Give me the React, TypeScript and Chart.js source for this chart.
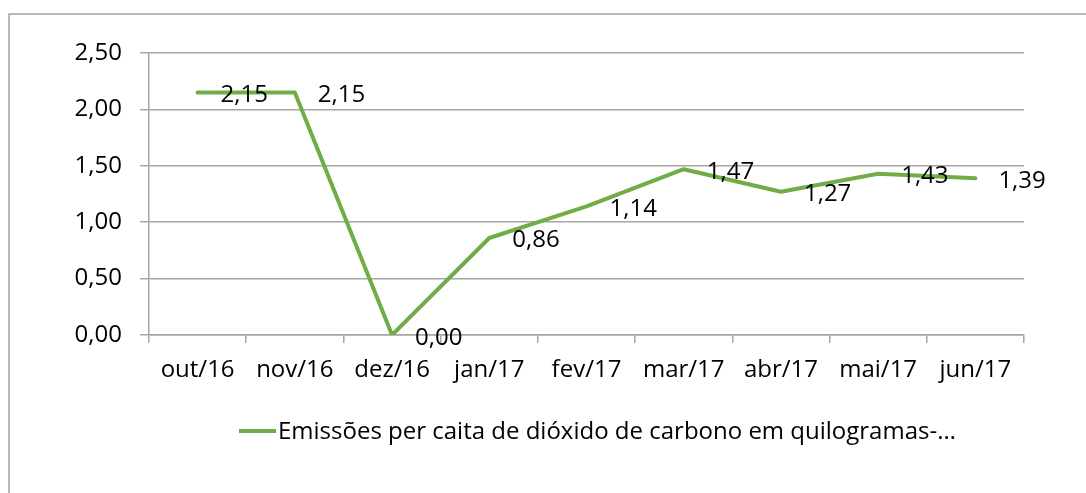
import React, { useEffect, useRef } from "react";
import { Chart, registerables } from "chart.js";

Chart.register(...registerables);

const categories = ["out/16", "nov/16", "dez/16", "jan/17", "fev/17", "mar/17", "abr/17", "mai/17", "jun/17"];
const values = [2.15, 2.15, 0.0, 0.86, 1.14, 1.47, 1.27, 1.43, 1.39];
const seriesLabel = "Emissões per caita de dióxido de carbono em quilogramas-…";
const yMin = 0;
const yMax = 2.5;
const yStep = 0.5;

const FONT = "'Open Sans', sans-serif";
const GREEN = "#70AD47";
const GRID = "#a6a6a6";

const fmt = (v: number) => v.toFixed(2).replace(".", ",");

const extrasPlugin = {
  id: "extras",
  beforeDraw(chart: any) {
    const ctx = chart.ctx;
    ctx.save();
    ctx.strokeStyle = "#a0a0a0";
    ctx.lineWidth = 1.5;
    ctx.strokeRect(9, 14, 1200, 600);
    ctx.restore();
  },
  afterDatasetsDraw(chart: any) {
    const ctx = chart.ctx;
    const meta = chart.getDatasetMeta(0);
    const ds = chart.data.datasets[0];
    ctx.save();
    ctx.font = `24px ${FONT}`;
    ctx.fillStyle = "#000";
    ctx.textAlign = "left";
    ctx.textBaseline = "alphabetic";
    meta.data.forEach((pt: any, i: number) => {
      ctx.fillText(fmt(ds.data[i]), pt.x + 23, pt.y + 9.5);
    });
    // legend
    ctx.strokeStyle = GREEN;
    ctx.lineWidth = 4;
    ctx.lineCap = "butt";
    ctx.beginPath();
    ctx.moveTo(239, 431);
    ctx.lineTo(276, 431);
    ctx.stroke();
    ctx.fillText(ds.label, 278, 439);
    ctx.restore();
  },
};

export default function App() {
  const ref = useRef<HTMLCanvasElement | null>(null);
  useEffect(() => {
    if (!ref.current) return;
    const chart = new Chart(ref.current, {
      type: "line",
      data: {
        labels: categories,
        datasets: [
          {
            label: seriesLabel,
            data: values,
            borderColor: GREEN,
            backgroundColor: GREEN,
            borderWidth: 4,
            pointRadius: 0,
            tension: 0,
            borderJoinStyle: "round",
            borderCapStyle: "round",
          },
        ],
      },
      options: {
        animation: false,
        responsive: false,
        devicePixelRatio: 1,
        layout: { padding: { left: 0, top: 53, right: 62, bottom: 98 } },
        plugins: {
          legend: { display: false },
          tooltip: { enabled: false },
        },
        scales: {
          x: {
            type: "category",
            offset: true,
            grid: {
              display: true,
              offset: true,
              drawOnChartArea: false,
              drawTicks: true,
              tickLength: 8,
              color: GRID,
              lineWidth: 1.5,
            },
            border: { display: true, color: GRID, width: 1.5 },
            ticks: {
              color: "#000",
              font: { family: FONT, size: 24 },
              padding: 13,
              maxRotation: 0,
              autoSkip: false,
            },
            afterFit: (s: any) => {
              s.height = 60;
            },
          },
          y: {
            min: yMin,
            max: yMax,
            grid: {
              color: GRID,
              lineWidth: 1.5,
              drawTicks: true,
              tickLength: 9,
            },
            border: { display: true, color: GRID, width: 1.5 },
            ticks: {
              stepSize: yStep,
              color: "#000",
              font: { family: FONT, size: 24 },
              padding: 18,
              callback: (v: any) => fmt(Number(v)),
            },
            afterFit: (s: any) => {
              s.width = 149;
            },
          },
        },
      },
      plugins: [extrasPlugin],
    });
    return () => chart.destroy();
  }, []);
  return (
    <div style={{ position: "fixed", left: 0, top: 0, width: 1086, height: 493, background: "#fff" }}>
      <canvas ref={ref} width={1086} height={493} style={{ width: 1086, height: 493, display: "block" }} />
    </div>
  );
}
